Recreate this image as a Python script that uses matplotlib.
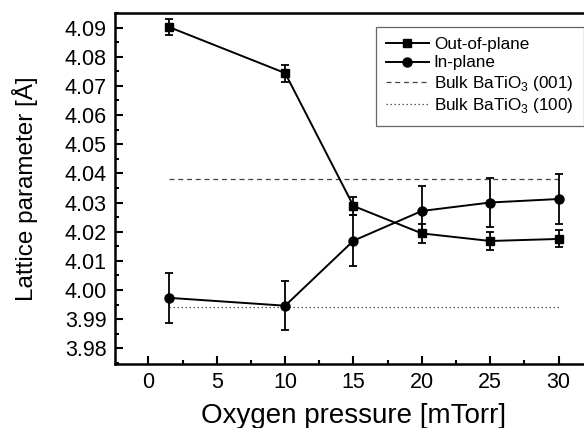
import matplotlib
matplotlib.use("Agg")
import matplotlib.pyplot as plt
from matplotlib.ticker import MultipleLocator, FormatStrFormatter

plt.rcParams['font.family'] = ['Liberation Sans', 'DejaVu Sans']
plt.rcParams['mathtext.fontset'] = 'custom'
plt.rcParams['mathtext.rm'] = 'Liberation Sans'

# Oxygen pressure (mTorr)
pressure = [1.5, 10, 15, 20, 25, 30]

# Out-of-plane lattice parameter (Å) and uncertainty
out_of_plane = [4.0902, 4.0744, 4.0288, 4.0194, 4.0168, 4.0175]
out_err = [0.0029, 0.0029, 0.0032, 0.0032, 0.0030, 0.0029]

# In-plane lattice parameter (Å) and uncertainty
in_plane = [3.9973, 3.9946, 4.0169, 4.0271, 4.0300, 4.0312]
in_err = [0.0085, 0.0084, 0.0088, 0.0085, 0.0085, 0.0085]

# Bulk BaTiO3 reference values (Å)
bulk_001 = 4.038
bulk_100 = 3.994
bulk_span = [1.5, 30]

fig = plt.figure(figsize=(5.84, 4.28), dpi=100)
ax = fig.add_axes([0.197, 0.1495, 0.818, 0.8201])

ax.errorbar(pressure, out_of_plane, yerr=out_err, fmt='none', ecolor='black',
            elinewidth=1.3, capsize=2.8, capthick=1.3, zorder=3)
ax.errorbar(pressure, in_plane, yerr=in_err, fmt='none', ecolor='black',
            elinewidth=1.3, capsize=2.8, capthick=1.3, zorder=3)
ax.plot(pressure, out_of_plane, '-s', color='black', lw=1.4, ms=6,
        label='Out-of-plane', zorder=4)
ax.plot(pressure, in_plane, '-o', color='black', lw=1.4, ms=6.5,
        label='In-plane', zorder=4)
ax.plot(bulk_span, [bulk_001, bulk_001], '--', color='#444444', lw=0.9,
        dashes=(4, 3), label='Bulk BaTiO$_3$ (001)')
ax.plot(bulk_span, [bulk_100, bulk_100], ':', color='#555555', lw=0.9,
        dashes=(1.2, 2), label='Bulk BaTiO$_3$ (100)')

ax.set_xlim(-2.44, 32.5)
ax.set_ylim(3.9746, 4.095)
ax.xaxis.set_major_locator(MultipleLocator(5))
ax.xaxis.set_minor_locator(MultipleLocator(2.5))
ax.yaxis.set_major_locator(MultipleLocator(0.01))
ax.yaxis.set_minor_locator(MultipleLocator(0.005))
ax.yaxis.set_major_formatter(FormatStrFormatter('%.2f'))

ax.tick_params(which='both', direction='in', top=False, right=False,
               width=1.5, labelsize=15.5)
ax.tick_params(which='major', length=6, pad=6)
ax.tick_params(which='minor', length=3)
for s in ax.spines.values():
    s.set_linewidth(1.8)

ax.set_xlabel('Oxygen pressure [mTorr]', fontsize=20, labelpad=7)
ax.set_ylabel('Lattice parameter [Å]', fontsize=17.5, labelpad=19)

leg = ax.legend(loc='upper right', bbox_to_anchor=(0.999, 0.985),
                fontsize=12.3, frameon=True, fancybox=False, handlelength=2.5,
                handletextpad=0.3, borderpad=0.6, labelspacing=0.2,
                edgecolor='#666666', framealpha=1)
leg.get_frame().set_linewidth(0.9)

fig.savefig('out.png', dpi=100)
